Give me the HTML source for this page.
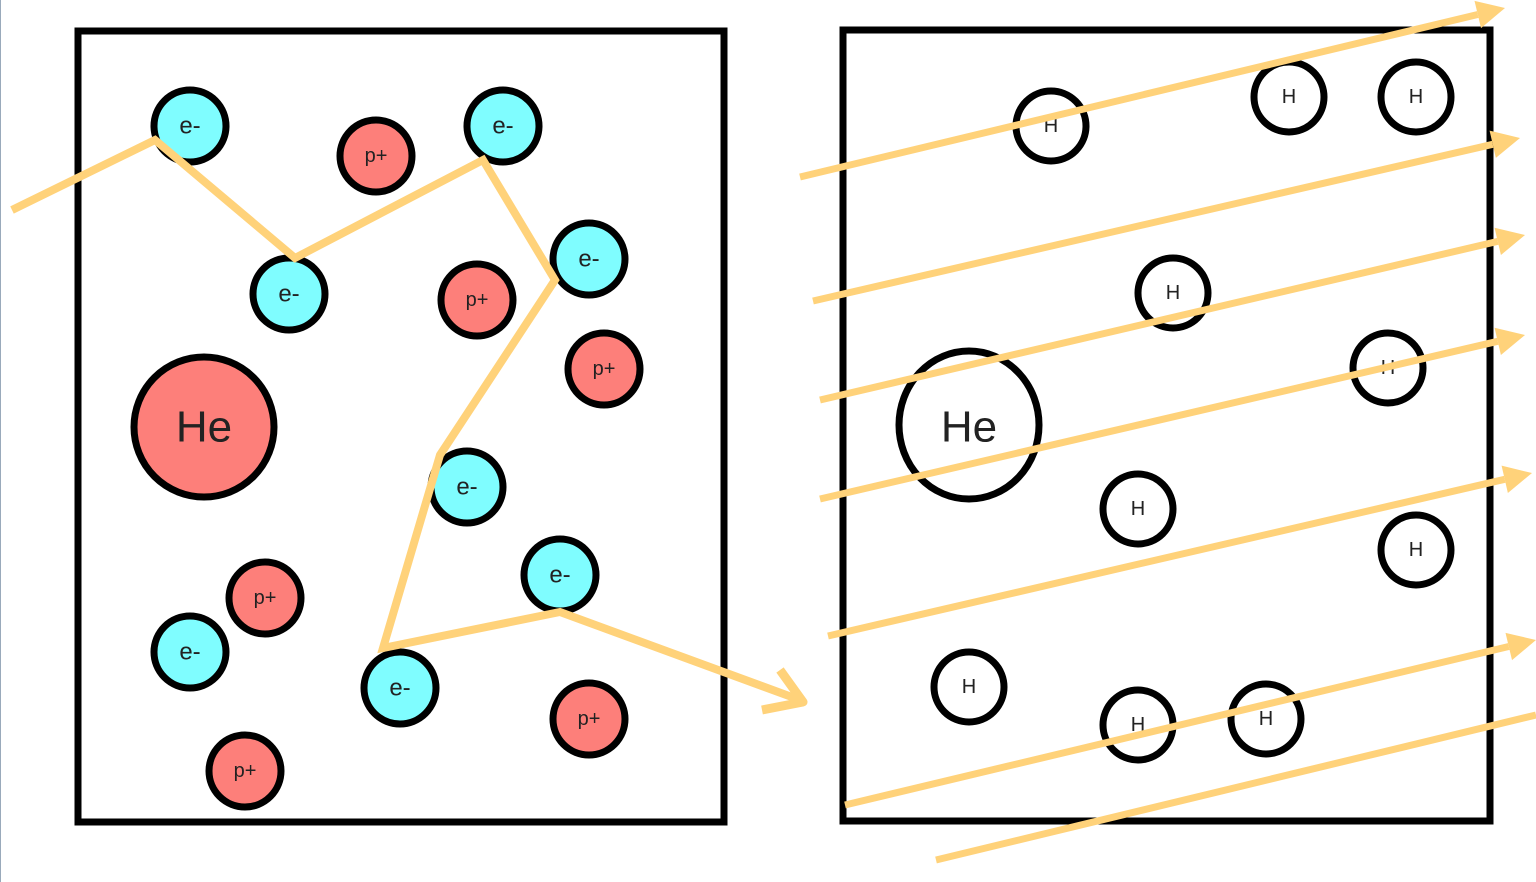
<!DOCTYPE html>
<html><head><meta charset="utf-8"><style>
html,body{margin:0;padding:0;background:#fff;width:1536px;height:882px;overflow:hidden}
svg{display:block}
text{font-family:"Liberation Sans",sans-serif;text-anchor:middle;dominant-baseline:central;fill:#222}
</style></head><body>
<svg width="1536" height="882" viewBox="0 0 1536 882">
<line x1="0.5" y1="0" x2="0.5" y2="882" stroke="#9ab" stroke-width="1"/>
<rect x="78" y="31" width="646" height="791" fill="none" stroke="#000" stroke-width="7"/>
<rect x="843" y="30" width="647" height="791" fill="none" stroke="#000" stroke-width="7"/>
<g id="left"></g>
<g id="right"></g>
<g id="rays"></g>
</svg>
<script>
const NS="http://www.w3.org/2000/svg";
const electrons=[[190,126],[503,126],[289,294],[589,259],[467,487],[560,575],[190,652],[400,688]];
const protons=[[376,156],[477,300],[604,369],[265,598],[589,719],[245,771]];
const hydrogens=[[1051,126],[1289,97],[1416,97],[1173,293],[1388,368],[1138,509],[1416,550],[969,687],[1138,725],[1266,719]];
const zigzag=[[12,210],[155,140],[295,258],[483,160],[555,280],[440,455],[383,648],[560,612],[800,700]];
const rays=[[800,177,1505,8],[813,301,1520,138],[820,400,1525,235],[820,499,1525,335],[828,636,1532,473],[845,805,1536,640]];
const lastRay=[936,860,1536,715];
function mk(tag,attrs,parent){const e=document.createElementNS(NS,tag);for(const k in attrs)e.setAttribute(k,attrs[k]);parent.appendChild(e);return e;}
function particle(g,x,y,r,fill,label,fs,name){
  const grp=mk('g',{},g);
  
  
  mk('ellipse',{cx:x,cy:y,rx:r,ry:r,fill:fill,stroke:'#000','stroke-width':7},grp);
  const t=mk('text',{x:x,y:y,'font-size':fs},grp);t.textContent=label;
}
const L=document.getElementById('left'),R=document.getElementById('right'),Y=document.getElementById('rays');
electrons.forEach(p=>particle(L,p[0],p[1],36,'#7ffdff','e-',24,'electron'));
protons.forEach(p=>particle(L,p[0],p[1],36,'#fd7f7a','p+',20,'proton'));
particle(L,204,427,70,'#fd7f7a','He',44,'helium-ion');
hydrogens.forEach(p=>particle(R,p[0],p[1],35,'#fff','H',20,'hydrogen-atom'));
const he=mk('g',{},R);


mk('ellipse',{cx:969,cy:425,rx:70,ry:74,fill:'#fff',stroke:'#000','stroke-width':7},he);
const ht=mk('text',{x:969,y:427,'font-size':44},he);ht.textContent='He';
const c='#ffd27a';
const zz=mk('polyline',{points:zigzag.map(p=>p.join(',')).join(' '),fill:'none',stroke:c,'stroke-width':8,'stroke-linejoin':'miter'},Y);


const ch=mk('polyline',{points:'762,710 803,702 780,670',fill:'none',stroke:c,'stroke-width':9,'stroke-linejoin':'round'},Y);


rays.forEach(r=>{
  const [x1,y1,x2,y2]=r;const a=Math.atan2(y2-y1,x2-x1);const L2=28,W=14;
  const bx=x2-L2*Math.cos(a),by=y2-L2*Math.sin(a);
  const ln=mk('line',{x1:x1,y1:y1,x2:bx,y2:by,stroke:c,'stroke-width':7},Y);
  
  
  const px=-Math.sin(a),py=Math.cos(a);
  const hd=mk('polygon',{points:`${x2},${y2} ${bx+W*px},${by+W*py} ${bx-W*px},${by-W*py}`,fill:c},Y);
  
  
});
const lr=mk('line',{x1:lastRay[0],y1:lastRay[1],x2:lastRay[2],y2:lastRay[3],stroke:c,'stroke-width':7},Y);


</script>
</body></html>
